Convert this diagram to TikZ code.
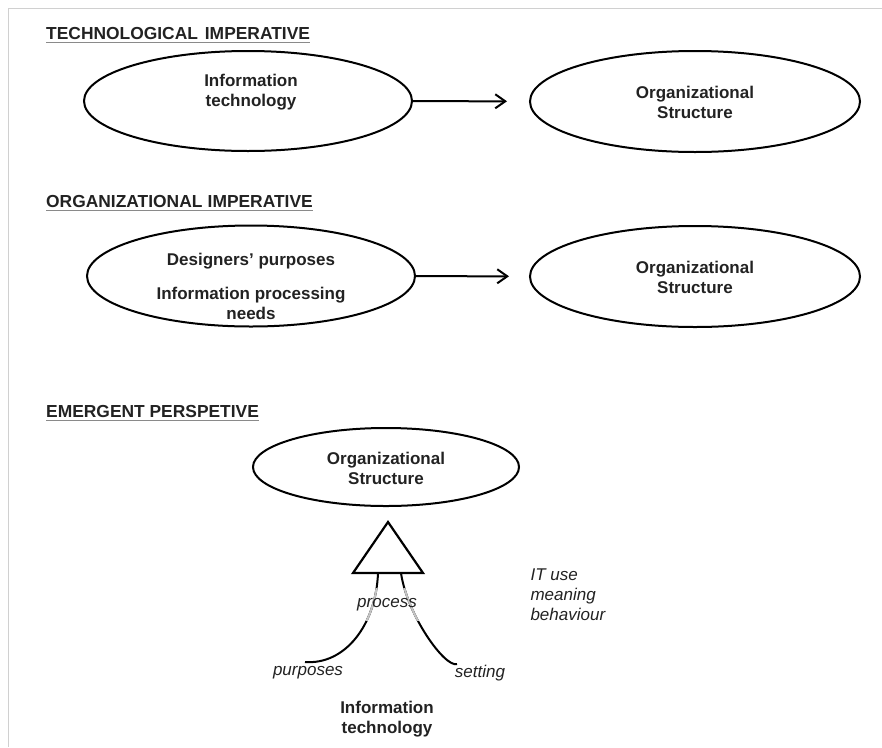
\documentclass[tikz,border=0pt]{standalone}
\usepackage{fontspec}
\setmainfont{Liberation Sans}
\usetikzlibrary{shapes.geometric,arrows.meta}
\definecolor{ink}{HTML}{222222}
\definecolor{framegray}{HTML}{D0D0D0}
\definecolor{rulegray}{HTML}{8A8A8A}
\definecolor{fadegray}{HTML}{C4C4C4}
\begin{document}
\begin{tikzpicture}[x=1pt,y=-1pt,
  every node/.style={text=ink, font=\fontsize{17}{20}\selectfont},
  oval/.style={draw=black, ellipse, line width=2pt, inner sep=0pt},
  lbl/.style={align=center, font=\fontsize{17}{20}\selectfont\bfseries},
  heading/.style={anchor=base west, inner sep=0pt, font=\fontsize{17.4}{20}\selectfont\bfseries},
  uline/.style={draw=rulegray, line width=1.8pt},
  conn/.style={draw=black, line width=2pt, -{Straight Barb[length=10pt,width=14pt]}},
  note/.style={font=\fontsize{17}{20}\selectfont\itshape},
  strand/.style={draw=black, line width=2pt},
]
\useasboundingbox (0,0) rectangle (882,747);
% outer frame
\draw[framegray, line width=1pt] (8,747) -- (8,8) -- (882,8);

% ---------- technological imperative ----------
\node[heading] (h1) at (46,39) {TECHNOLOGICAL\hspace{0.4em}IMPERATIVE};
\draw[uline] ([yshift=-3.5pt]h1.base west) -- ([yshift=-3.5pt]h1.base east);
\node[oval, minimum width=328, minimum height=100] (it1) at (248,101) {};
\node[lbl] (it1t) at (251,92) {Information\\technology};
\node[oval, minimum width=330, minimum height=101] (os1) at (695,101.5) {};
\node[lbl] (os1t) at (695,102) {Organizational\\Structure};
\draw[conn, shorten >=22pt] (it1) -- (os1);

% ---------- organizational imperative ----------
\node[heading] (h2) at (46,207) {ORGANIZATIONAL\hspace{0.3em}IMPERATIVE};
\draw[uline] ([yshift=-3.5pt]h2.base west) -- ([yshift=-3.5pt]h2.base east);
\node[oval, minimum width=328, minimum height=101] (dp) at (251,276) {};
\node[lbl] (dpt1) at (251,261) {Designers’ purposes};
\node[lbl] (dpt2) at (251,303) {Information processing\\needs};
\node[oval, minimum width=330, minimum height=101] (os2) at (695,276.5) {};
\node[lbl] (os2t) at (695,277) {Organizational\\Structure};
\draw[conn, shorten >=20pt] (dp) -- (os2);

% ---------- emergent perspective ----------
\node[heading] (h3) at (46,417) {EMERGENT PERSPETIVE};
\draw[uline] ([yshift=-3.5pt]h3.base west) -- ([yshift=-3.5pt]h3.base east);
\node[oval, minimum width=266, minimum height=78] (os3) at (386,467) {};
\node[lbl] (os3t) at (386,468) {Organizational\\Structure};

% triangle of structuration
\coordinate (apex) at (388,522);
\coordinate (bl) at (353,573);
\coordinate (br) at (423,573);
\draw[black, line width=2.2pt, line join=miter] (apex) -- (bl) -- (br) -- cycle;

% two strands from the triangle base
\coordinate (lt) at (378,573);
\coordinate (rt) at (401,573);
\coordinate (le) at (305,662);
\coordinate (re) at (457,664);
\draw[strand] (lt) .. controls (376,625) and (345,665) .. (le);
\draw[strand] (rt) .. controls (407,615) and (445,668) .. (re);
\begin{scope}
  \clip (330,588) rectangle (440,620);
  \draw[strand, draw=fadegray] (lt) .. controls (376,625) and (345,665) .. (le);
  \draw[strand, draw=fadegray] (rt) .. controls (407,615) and (445,668) .. (re);
\end{scope}

\node[note] (proc) at (387,605) {process};
\node[note] (purp) at (308,673) {purposes};
\node[note] (sett) at (480,673) {setting};
\node[lbl] (it3) at (387,719) {Information\\technology};
\node[note, align=left, anchor=west] (itu) at (527,595) {IT use\\meaning\\behaviour};
\end{tikzpicture}
\end{document}
